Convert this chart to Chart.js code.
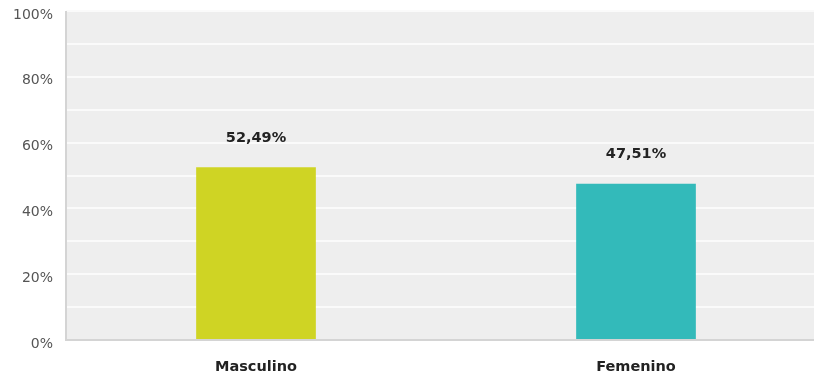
<!DOCTYPE html>
<html>
<head>
<meta charset="utf-8">
<script src="https://cdn.jsdelivr.net/npm/chart.js@4.4.1/dist/chart.umd.min.js"></script>
<style>
  html, body { margin: 0; padding: 0; background: #fff; overflow: hidden; }
  #wrap { width: 826px; height: 376px; }
</style>
</head>
<body>
<div id="wrap"><canvas id="c" width="826" height="376"></canvas></div>
<script>
const categories = ["Masculino", "Femenino"];
const values = [52.49, 47.51];
const barColors = ["#cfd424", "#33baba"];
const tickLabels = ["0%", "20%", "40%", "60%", "80%", "100%"];

const bgPlugin = {
  id: 'bg',
  beforeDraw(chart) {
    const {ctx, chartArea: a} = chart;
    ctx.save();
    ctx.fillStyle = '#eeeeee';
    ctx.fillRect(a.left, a.top, a.right - a.left, a.bottom - a.top);
    ctx.restore();
  },
  afterDatasetsDraw(chart) {
    const {ctx, chartArea: a} = chart;
    ctx.save();
    ctx.strokeStyle = '#d4d4d4';
    ctx.lineWidth = 2;
    ctx.beginPath();
    ctx.moveTo(a.left, a.top);
    ctx.lineTo(a.left, a.bottom);
    ctx.lineTo(a.right, a.bottom);
    ctx.stroke();
    const meta = chart.getDatasetMeta(0);
    ctx.font = 'bold 14.5px "DejaVu Sans", Verdana, sans-serif';
    ctx.fillStyle = '#222222';
    ctx.textAlign = 'center';
    ctx.textBaseline = 'middle';
    meta.data.forEach((bar, i) => {
      const txt = values[i].toFixed(2).replace('.', ',') + '%';
      ctx.fillText(txt, bar.x, bar.y - 29);
    });
    ctx.restore();
  }
};

new Chart(document.getElementById('c'), {
  type: 'bar',
  data: {
    labels: categories,
    datasets: [{
      data: values,
      backgroundColor: barColors,
      borderWidth: 0,
      categoryPercentage: 1,
      barPercentage: 0.315
    }]
  },
  options: {
    responsive: false,
    animation: false,
    devicePixelRatio: 1,
    layout: { padding: { top: 11, right: 0, left: 0, bottom: 0 } },
    plugins: { legend: { display: false }, tooltip: { enabled: false } },
    scales: {
      x: {
        grid: { display: false, drawTicks: false },
        border: { display: false },
        ticks: {
          padding: 19,
          color: '#222222',
          font: { family: '"DejaVu Sans", Verdana, sans-serif', size: 14.5, weight: 'bold' }
        },
        afterFit(s) { s.height = 36; s.paddingLeft = 0; s.paddingRight = 0; }
      },
      y: {
        min: 0, max: 100,
        ticks: {
          stepSize: 10,
          padding: 13,
          labelOffset: 4,
          color: '#555555',
          font: { family: '"DejaVu Sans", Verdana, sans-serif', size: 14 },
          callback: (v) => (v % 20 === 0 ? tickLabels[v / 20] : '')
        },
        grid: { color: '#fafafa', lineWidth: 2, drawTicks: false },
        border: { display: false },
        afterFit(s) { s.width = 66; s.paddingTop = 0; s.paddingBottom = 0; }
      }
    }
  },
  plugins: [bgPlugin]
});
</script>
</body>
</html>
